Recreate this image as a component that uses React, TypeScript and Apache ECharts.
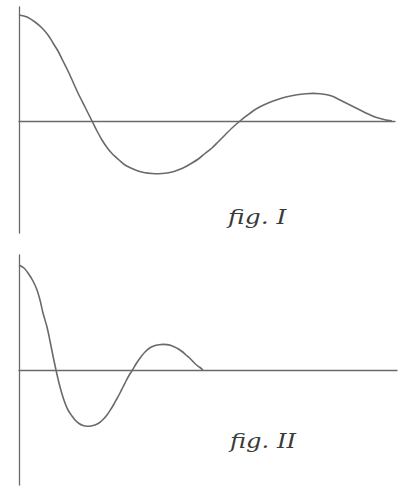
import React, { useEffect, useRef } from "react";
import * as echarts from "echarts";

// fig. I : damped oscillation (x offset from the vertical axis, y height above the horizontal axis)
const fig1X = [0, 8, 16, 23, 29, 34, 39, 44, 49, 54, 59, 66, 73, 78, 83, 88, 93, 100, 106, 113, 119, 126, 133, 140, 146, 153, 159, 166, 173, 180, 186, 193, 199, 206, 213, 221, 228, 234, 241, 248, 258, 268, 278, 287, 294, 301, 308, 314, 322, 331, 340, 348, 356, 364, 369, 373];
const fig1Y = [106, 104, 99, 93, 86, 78, 70, 60, 50, 39, 28, 14, 0, -10, -19, -26.5, -32.5, -39, -44, -47.5, -50, -51.8, -52.5, -52.7, -52.3, -51, -49, -46, -42, -37.5, -32.5, -27, -21, -14, -7, 0, 5.5, 10, 14.2, 17.6, 21.3, 24.2, 26.2, 27.3, 27.6, 27.3, 26.3, 24.5, 20.5, 16, 11.5, 7.5, 4, 1.8, 0.6, 0];

// fig. II : faster damped oscillation
const fig2X = [0, 5, 9, 14, 18, 21, 24, 28, 31, 34, 37, 40, 43, 46, 49, 53, 56, 60, 64, 68, 72, 76, 80, 84, 88, 92, 95, 98, 101, 104, 107, 110, 113.5, 117, 120, 123, 126, 130, 133, 137, 140, 144, 148, 152, 155, 159, 163, 167, 170, 174, 177, 181, 184];
const fig2Y = [105, 102, 97, 89, 80, 70, 57, 43, 29, 14, 0, -13, -24, -33, -40, -46, -50, -53.5, -55.5, -56.2, -56, -55, -53, -49.5, -45, -39, -34, -28.5, -23, -17, -11, -5.5, 0, 6, 10.5, 14.5, 18, 21.5, 23.3, 24.7, 25.3, 25.6, 25.4, 24.5, 23.3, 21.3, 18.5, 15, 12.5, 8.5, 5.5, 2.5, 0];

const labels = ["fig. I", "fig. II"];

const LINE = "#6a6a6a";

export default function App() {
  const ref = useRef<HTMLDivElement>(null);
  useEffect(() => {
    if (!ref.current) return;
    const chart = echarts.init(ref.current, null, { renderer: "svg" });
    const axisCommon = {
      type: "value" as const,
      axisTick: { show: false },
      axisLabel: { show: false },
      splitLine: { show: false },
    };
    const axisLine = (onZero: boolean) => ({ show: true, onZero, lineStyle: { color: LINE, width: 1.3 } });
    chart.setOption({
      animation: false,
      backgroundColor: "#ffffff",
      grid: [
        { left: 19, top: 7, width: 376, height: 226 },
        { left: 19, top: 255, width: 378, height: 230 },
      ],
      xAxis: [
        { ...axisCommon, gridIndex: 0, min: 0, max: 376, axisLine: axisLine(true) },
        { ...axisCommon, gridIndex: 1, min: 0, max: 378, axisLine: axisLine(true) },
      ],
      yAxis: [
        { ...axisCommon, gridIndex: 0, min: -112, max: 114, axisLine: axisLine(false) },
        { ...axisCommon, gridIndex: 1, min: -115, max: 115, axisLine: axisLine(false) },
      ],
      series: [
        {
          type: "line",
          xAxisIndex: 0,
          yAxisIndex: 0,
          smooth: 0.3,
          showSymbol: false,
          lineStyle: { color: LINE, width: 1.6 },
          data: fig1X.map((x, i) => [x, fig1Y[i]]),
        },
        {
          type: "line",
          xAxisIndex: 1,
          yAxisIndex: 1,
          smooth: 0.3,
          showSymbol: false,
          lineStyle: { color: LINE, width: 1.6 },
          data: fig2X.map((x, i) => [x, fig2Y[i]]),
        },
      ],
      graphic: [
        {
          type: "text",
          x: 228,
          y: 207,
          scaleX: 1.25,
          style: {
            text: labels[0],
            font: "italic 20px 'DejaVu Serif'",
            fill: "#3a3a3a",
            align: "left",
            verticalAlign: "top",
          },
        },
        {
          type: "text",
          x: 230,
          y: 430,
          scaleX: 1.15,
          style: {
            text: labels[1],
            font: "italic 21px 'DejaVu Serif'",
            fill: "#3a3a3a",
            align: "left",
            verticalAlign: "top",
          },
        },
      ],
    });
    return () => chart.dispose();
  }, []);
  return <div ref={ref} style={{ position: "fixed", left: 0, top: 0, width: 404, height: 492 }} />;
}
